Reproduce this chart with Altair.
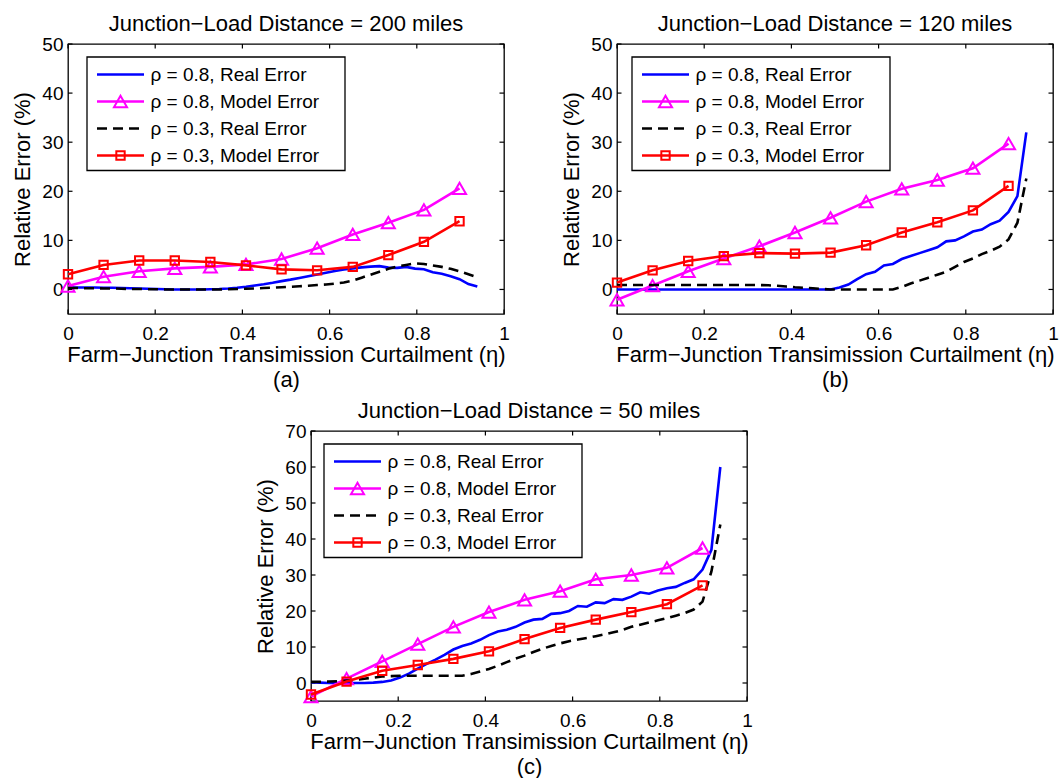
import altair as alt
import pandas as pd

# ---------------- data ----------------
X_REAL = [0.0, 0.0204, 0.0408, 0.0612, 0.0816, 0.102, 0.1224, 0.1429, 0.1633, 0.1837,
          0.2041, 0.2245, 0.2449, 0.2653, 0.2857, 0.3061, 0.3265, 0.3469, 0.3673, 0.3878,
          0.4082, 0.4286, 0.449, 0.4694, 0.4898, 0.5102, 0.5306, 0.551, 0.5714, 0.5918,
          0.6122, 0.6327, 0.6531, 0.6735, 0.6939, 0.7143, 0.7347, 0.7551, 0.7755, 0.7959,
          0.8163, 0.8367, 0.8571, 0.8776, 0.898, 0.9184, 0.9388]
X_MODEL = [0.0, 0.0816, 0.1633, 0.2449, 0.3265, 0.4082, 0.4898, 0.5714, 0.6531, 0.7347, 0.8163, 0.898]

# panel (a): 200 miles
A_REAL08 = [0.4, 0.4, 0.4, 0.4, 0.35, 0.35, 0.3, 0.25, 0.2, 0.15, 0.1, 0.05, 0.0, 0.0, 0.0, 0.0,
            0.05, 0.1, 0.2, 0.35, 0.55, 0.8, 1.05, 1.35, 1.7, 2.0, 2.35, 2.7, 3.05, 3.4, 3.75,
            4.05, 4.3, 4.5, 4.65, 4.75, 4.45, 4.4, 4.6, 4.25, 4.1, 3.5, 3.2, 2.7, 2.1, 1.1, 0.6]
A_MODEL08 = [0.7, 2.6, 3.7, 4.3, 4.6, 5.1, 6.2, 8.4, 11.2, 13.6, 16.2, 20.6]
A_REAL03 = [0.3, 0.3, 0.25, 0.25, 0.2, 0.2, 0.15, 0.1, 0.1, 0.05, 0.05, 0.0, 0.0, 0.0, 0.0, 0.0,
            0.0, 0.0, 0.05, 0.1, 0.15, 0.2, 0.3, 0.35, 0.45, 0.55, 0.65, 0.75, 0.9, 1.0, 1.2,
            1.4, 1.8, 2.4, 3.0, 3.6, 4.2, 4.7, 5.0, 5.3, 5.2, 4.9, 4.6, 4.2, 3.7, 3.1, 2.5]
A_MODEL03 = [3.1, 5.0, 5.9, 5.9, 5.6, 4.9, 4.1, 3.9, 4.6, 7.0, 9.7, 13.9]

# panel (b): 120 miles
B_REAL08 = [0.0, 0.0, 0.0, 0.0, 0.0, 0.0, 0.0, 0.0, 0.0, 0.0, 0.0, 0.0, 0.0, 0.0, 0.0, 0.0,
            0.0, 0.0, 0.0, 0.0, 0.0, 0.0, 0.0, 0.0, 0.0, 0.4, 1.0, 2.1, 3.1, 3.6, 4.9, 5.2,
            6.2, 6.8, 7.4, 8.0, 8.6, 9.8, 10.0, 10.8, 11.8, 12.2, 13.3, 14.0, 15.8, 19.0, 32.0]
B_MODEL08 = [-2.1, 0.8, 3.7, 6.3, 8.8, 11.6, 14.6, 17.9, 20.5, 22.3, 24.7, 29.7]
B_REAL03 = [0.9, 0.9, 0.9, 0.9, 0.9, 0.9, 0.9, 0.9, 0.9, 0.9, 0.9, 0.9, 0.9, 0.9, 0.9, 0.9,
            0.9, 0.85, 0.75, 0.6, 0.45, 0.35, 0.25, 0.1, 0.0, 0.0, 0.0, 0.0, 0.0, 0.0, 0.0,
            0.0, 0.5, 1.2, 1.8, 2.4, 3.0, 3.6, 4.6, 5.6, 6.3, 7.2, 7.9, 8.7, 10.2, 13.6, 22.6]
B_MODEL03 = [1.4, 3.9, 5.8, 6.8, 7.4, 7.3, 7.5, 9.0, 11.6, 13.7, 16.1, 21.1]

# panel (c): 50 miles
C_REAL08 = [0.2, 0.1, 0.0, 0.0, 0.0, 0.0, 0.0, 0.1, 0.3, 0.7, 1.5, 2.6, 4.0, 5.3, 6.5, 7.8,
            9.3, 10.3, 11.0, 12.0, 13.3, 14.3, 14.8, 15.6, 16.8, 17.6, 17.8, 19.2, 19.4, 20.0,
            21.4, 21.2, 22.4, 22.2, 23.3, 23.1, 24.0, 25.2, 24.8, 25.7, 26.3, 26.7, 27.8, 28.8,
            31.5, 37.0, 60.0]
C_MODEL08 = [-3.8, 1.2, 6.0, 10.8, 15.6, 19.7, 23.1, 25.5, 28.8, 30.0, 32.0, 37.5]
C_REAL03 = [0.3, 0.3, 0.4, 0.5, 0.7, 0.9, 1.2, 1.5, 1.8, 1.9, 2.0, 2.0, 2.0, 2.0, 2.0, 2.0,
            2.0, 2.0, 2.5, 3.2, 3.9, 4.8, 5.8, 6.8, 7.6, 8.6, 9.5, 10.3, 11.0, 11.6, 12.1,
            12.5, 13.0, 13.5, 14.1, 14.7, 15.6, 16.2, 16.8, 17.4, 18.0, 18.7, 19.4, 20.4, 22.6,
            31.0, 44.0]
C_MODEL03 = [-3.2, 0.4, 3.4, 5.0, 6.7, 8.8, 12.2, 15.3, 17.6, 19.7, 21.9, 27.1]

TITLES = ["Junction\u2212Load Distance = 200 miles",
          "Junction\u2212Load Distance = 120 miles",
          "Junction\u2212Load Distance = 50 miles"]
SUBLABELS = ["(a)", "(b)", "(c)"]
X_TITLE = "Farm\u2212Junction Transimission Curtailment (\u03b7)"
Y_TITLE = "Relative Error (%)"
SERIES = ["\u03c1 = 0.8, Real Error", "\u03c1 = 0.8, Model Error",
          "\u03c1 = 0.3, Real Error", "\u03c1 = 0.3, Model Error"]
X_TICKS = [0, 0.2, 0.4, 0.6, 0.8, 1]
Y_TICKS_AB = [0, 10, 20, 30, 40, 50]
Y_TICKS_C = [0, 10, 20, 30, 40, 50, 60, 70]

PANELS = [
    (A_REAL08, A_MODEL08, A_REAL03, A_MODEL03, [-5, 50], Y_TICKS_AB),
    (B_REAL08, B_MODEL08, B_REAL03, B_MODEL03, [-5, 50], Y_TICKS_AB),
    (C_REAL08, C_MODEL08, C_REAL03, C_MODEL03, [-5, 70], Y_TICKS_C),
]

# ---------------- styles ----------------
FONT = "Liberation Sans"
BLUE, MAGENTA, BLACK, RED = "#0000ff", "#ff00ff", "#000000", "#ff0000"
W, H = 436, 270
TL = 4.5
LW = 2.6
DASH = [10, 6]
LEG_LEFT = [19, 15, 13]


def panel(i):
    real08, model08, real03, model03, ydom, yticks = PANELS[i]
    xaxis = alt.Axis(values=X_TICKS, format="~g", title=[X_TITLE, SUBLABELS[i]],
                     grid=False, ticks=False, tickSize=0, domain=False,
                     labelFontSize=19, labelPadding=10, labelFlush=False, labelOverlap=False,
                     titleFontSize=22, titlePadding=1.5, titleLineHeight=25,
                     labelFont=FONT, titleFont=FONT, titleFontWeight="normal",
                     labelColor="black", titleColor="black")
    yaxis = alt.Axis(values=yticks, title=Y_TITLE, grid=False, ticks=False, tickSize=0,
                     domain=False, labelFontSize=19, labelPadding=5, labelOverlap=False,
                     labelFlush=False,
                     titleFontSize=22, titlePadding=7, labelFont=FONT, titleFont=FONT,
                     titleFontWeight="normal", labelColor="black", titleColor="black")

    def X(f):
        return alt.X(f"{f}:Q", scale=alt.Scale(domain=[0, 1], nice=False, zero=False), axis=xaxis)

    def Y(f):
        return alt.Y(f"{f}:Q", scale=alt.Scale(domain=ydom, nice=False, zero=False), axis=yaxis)

    layers = []
    xt = pd.DataFrame({"x": X_TICKS})
    yt = pd.DataFrame({"y": yticks})
    layers.append(alt.Chart(xt).mark_rule(color="black", strokeWidth=1.2).encode(
        x=X("x"), y=alt.value(H), y2=alt.value(H - TL)))
    layers.append(alt.Chart(xt).mark_rule(color="black", strokeWidth=1.2).encode(
        x=X("x"), y=alt.value(0), y2=alt.value(TL)))
    layers.append(alt.Chart(yt).mark_rule(color="black", strokeWidth=1.2).encode(
        y=Y("y"), x=alt.value(0), x2=alt.value(TL)))
    layers.append(alt.Chart(yt).mark_rule(color="black", strokeWidth=1.2).encode(
        y=Y("y"), x=alt.value(W), x2=alt.value(W - TL)))

    d_r08 = pd.DataFrame({"x": X_REAL, "y": real08})
    d_m08 = pd.DataFrame({"x": X_MODEL, "y": model08})
    d_r03 = pd.DataFrame({"x": X_REAL, "y": real03})
    d_m03 = pd.DataFrame({"x": X_MODEL, "y": model03})

    layers.append(alt.Chart(d_r08).mark_line(color=BLUE, strokeWidth=LW).encode(x=X("x"), y=Y("y")))
    layers.append(alt.Chart(d_m08).mark_line(color=MAGENTA, strokeWidth=LW).encode(x=X("x"), y=Y("y")))
    layers.append(alt.Chart(d_m08).mark_point(shape="triangle-up", size=170, filled=False,
                                              color=MAGENTA, strokeWidth=2, opacity=1).encode(
        x=X("x"), y=Y("y")))
    layers.append(alt.Chart(d_r03).mark_line(color=BLACK, strokeWidth=LW, strokeDash=DASH).encode(
        x=X("x"), y=Y("y")))
    layers.append(alt.Chart(d_m03).mark_line(color=RED, strokeWidth=LW).encode(x=X("x"), y=Y("y")))
    layers.append(alt.Chart(d_m03).mark_point(shape="square", size=70, filled=False,
                                              color=RED, strokeWidth=2, opacity=1).encode(
        x=X("x"), y=Y("y")))

    # legend (drawn inside the plot, upper left)
    L = LEG_LEFT[i]
    one = pd.DataFrame({"k": [0]})
    layers.append(alt.Chart(one).mark_rect(fill="white", stroke="black", strokeWidth=1.3).encode(
        x=alt.value(L), x2=alt.value(L + 258), y=alt.value(13), y2=alt.value(126.5)))
    styles = [(BLUE, None, None), (MAGENTA, None, "triangle-up"),
              (BLACK, DASH, None), (RED, None, "square")]
    for r, (lab, (col, dash, shape)) in enumerate(zip(SERIES, styles)):
        yy = 30.5 + r * 27
        rule_kw = dict(color=col, strokeWidth=LW)
        if dash:
            rule_kw["strokeDash"] = dash
        layers.append(alt.Chart(one).mark_rule(**rule_kw).encode(
            x=alt.value(L + 10), x2=alt.value(L + 57), y=alt.value(yy)))
        if shape:
            layers.append(alt.Chart(one).mark_point(
                shape=shape, size=170 if shape == "triangle-up" else 70, filled=False,
                color=col, strokeWidth=2, opacity=1).encode(
                x=alt.value(L + 33.5), y=alt.value(yy)))
        layers.append(alt.Chart(pd.DataFrame({"label": [lab]})).mark_text(
            align="left", baseline="middle", font=FONT, fontSize=19, color="black").encode(
            x=alt.value(L + 63.5), y=alt.value(yy), text="label:N"))

    return alt.layer(*layers).properties(
        width=W, height=H,
        title=alt.TitleParams(TITLES[i], font=FONT, fontSize=22, fontWeight="normal",
                              color="black", anchor="middle", frame="group", offset=-1))


pa, pb, pc = panel(0), panel(1), panel(2)
spacer = alt.Chart(pd.DataFrame({"k": [0]})).mark_point(opacity=0).encode(
    x=alt.value(0), y=alt.value(0)).properties(
    width=243, height=H, view=alt.ViewBackground(stroke="transparent"))

row1 = alt.hconcat(pa, pb, spacing=113, bounds="flush")
row2 = alt.hconcat(spacer, pc, spacing=0, bounds="flush")
chart = alt.vconcat(row1, row2, spacing=7).properties(
    padding={"left": 11, "top": 12, "right": 0, "bottom": 0},
    background="white",
).configure_view(stroke="black", strokeWidth=1.3)

chart.save("out.html", embed_options={"renderer": "svg", "actions": False})
